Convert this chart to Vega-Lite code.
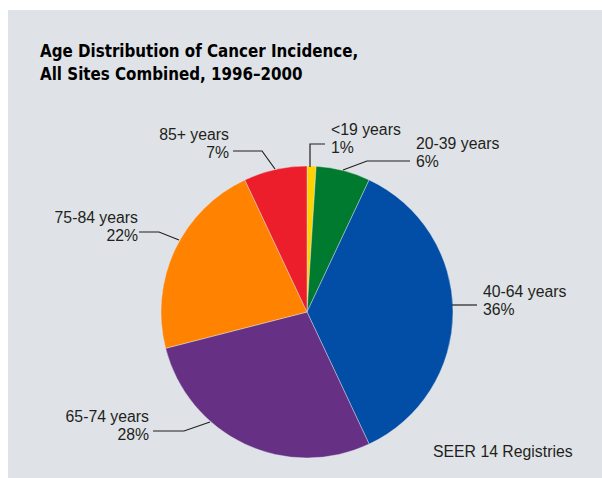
{
  "$schema": "https://vega.github.io/schema/vega-lite/v6.json",
  "width": 594,
  "height": 468,
  "autosize": {"type": "none"},
  "padding": {"left": 8, "top": 10, "right": 0, "bottom": 0},
  "background": "#ffffff",
  "config": {"view": {"fill": "#dfe3e7", "stroke": null}},
  "title": {
    "text": ["Age Distribution of Cancer Incidence,", "All Sites Combined, 1996–2000"],
    "anchor": "start",
    "frame": "group",
    "orient": "top",
    "font": "DejaVu Sans Condensed, sans-serif",
    "fontWeight": "bold",
    "fontSize": 16.8,
    "lineHeight": 23.5,
    "baseline": "alphabetic",
    "offset": 0,
    "dx": 32,
    "dy": 87,
    "color": "#000000"
  },
  "datasets": {
    "slices": [
      {"age": "<19 years", "pct": 1, "rank": 1},
      {"age": "20-39 years", "pct": 6, "rank": 2},
      {"age": "40-64 years", "pct": 36, "rank": 3},
      {"age": "65-74 years", "pct": 28, "rank": 4},
      {"age": "75-84 years", "pct": 22, "rank": 5},
      {"age": "85+ years", "pct": 7, "rank": 6}
    ],
    "leaders": [
      {"id": "<19", "i": 1, "x": 18, "y": 168},
      {"id": "<19", "i": 2, "x": 3, "y": 168},
      {"id": "<19", "i": 3, "x": 3, "y": 145},
      {"id": "20-39", "i": 1, "x": 103, "y": 151},
      {"id": "20-39", "i": 2, "x": 60, "y": 151},
      {"id": "20-39", "i": 3, "x": 36, "y": 142},
      {"id": "40-64", "i": 1, "x": 145, "y": 7},
      {"id": "40-64", "i": 2, "x": 170, "y": 7},
      {"id": "65-74", "i": 1, "x": -154, "y": -119},
      {"id": "65-74", "i": 2, "x": -123, "y": -119},
      {"id": "65-74", "i": 3, "x": -97, "y": -110},
      {"id": "75-84", "i": 1, "x": -168, "y": 80},
      {"id": "75-84", "i": 2, "x": -148, "y": 80},
      {"id": "75-84", "i": 3, "x": -128, "y": 72},
      {"id": "85+", "i": 1, "x": -74, "y": 161},
      {"id": "85+", "i": 2, "x": -45, "y": 161},
      {"id": "85+", "i": 3, "x": -32, "y": 143}
    ],
    "labels": [
      {"label": "<19 years\n1%", "side": "left", "x": 24, "y": 177},
      {"label": "20-39 years\n6%", "side": "left", "x": 109, "y": 163},
      {"label": "40-64 years\n36%", "side": "left", "x": 176, "y": 15},
      {"label": "65-74 years\n28%", "side": "right", "x": -158, "y": -110},
      {"label": "75-84 years\n22%", "side": "right", "x": -169, "y": 89},
      {"label": "85+ years\n7%", "side": "right", "x": -78, "y": 172},
      {"label": "SEER 14 Registries", "side": "left", "x": 126, "y": -145}
    ]
  },
  "layer": [
    {
      "data": {"name": "slices"},
      "mark": {"type": "arc", "outerRadius": 146, "stroke": "#e8ebee", "strokeWidth": 0.4},
      "encoding": {
        "theta": {"field": "pct", "type": "quantitative", "stack": true},
        "order": {"field": "rank", "type": "quantitative"},
        "color": {
          "field": "age",
          "type": "nominal",
          "legend": null,
          "scale": {
            "domain": ["<19 years", "20-39 years", "40-64 years", "65-74 years", "75-84 years", "85+ years"],
            "range": ["#ffd200", "#007a2e", "#024ea6", "#663184", "#ff8200", "#ec1e2b"]
          }
        },
        "x": {"datum": 0, "type": "quantitative", "scale": {"domain": [-299, 295], "nice": false, "zero": false}, "axis": null},
        "y": {"datum": 0, "type": "quantitative", "scale": {"domain": [-166, 302], "nice": false, "zero": false}, "axis": null}
      }
    },
    {
      "data": {"name": "leaders"},
      "mark": {"type": "line", "color": "#231f20", "strokeWidth": 1.2},
      "encoding": {
        "x": {"field": "x", "type": "quantitative", "scale": {"domain": [-299, 295], "nice": false, "zero": false}, "axis": null},
        "y": {"field": "y", "type": "quantitative", "scale": {"domain": [-166, 302], "nice": false, "zero": false}, "axis": null},
        "detail": {"field": "id", "type": "nominal"},
        "order": {"field": "i", "type": "quantitative"}
      }
    },
    {
      "data": {"name": "labels"},
      "transform": [{"filter": "datum.side === 'left'"}],
      "mark": {"type": "text", "align": "left", "baseline": "alphabetic", "lineBreak": "\n", "lineHeight": 17.5, "font": "Liberation Sans, sans-serif", "fontSize": 15.8, "color": "#231f20"},
      "encoding": {
        "x": {"field": "x", "type": "quantitative", "scale": {"domain": [-299, 295], "nice": false, "zero": false}, "axis": null},
        "y": {"field": "y", "type": "quantitative", "scale": {"domain": [-166, 302], "nice": false, "zero": false}, "axis": null},
        "text": {"field": "label", "type": "nominal"}
      }
    },
    {
      "data": {"name": "labels"},
      "transform": [{"filter": "datum.side === 'right'"}],
      "mark": {"type": "text", "align": "right", "baseline": "alphabetic", "lineBreak": "\n", "lineHeight": 17.5, "font": "Liberation Sans, sans-serif", "fontSize": 15.8, "color": "#231f20"},
      "encoding": {
        "x": {"field": "x", "type": "quantitative", "scale": {"domain": [-299, 295], "nice": false, "zero": false}, "axis": null},
        "y": {"field": "y", "type": "quantitative", "scale": {"domain": [-166, 302], "nice": false, "zero": false}, "axis": null},
        "text": {"field": "label", "type": "nominal"}
      }
    }
  ]
}
